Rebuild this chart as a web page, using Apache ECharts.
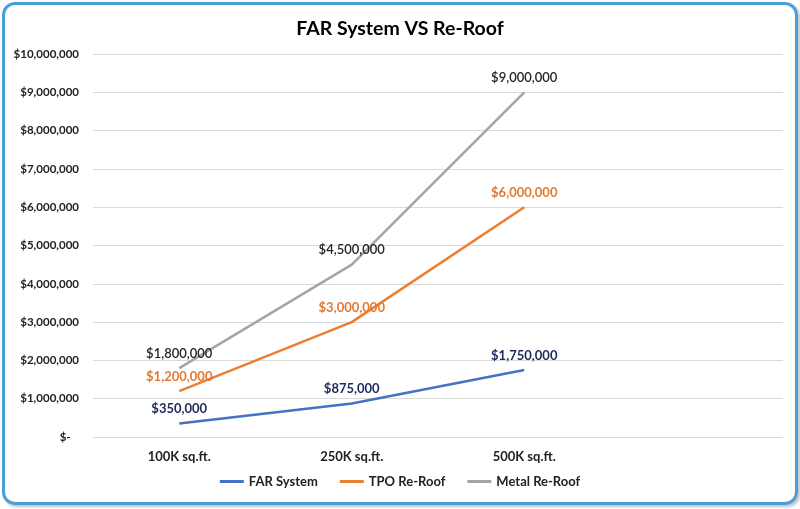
<!DOCTYPE html>
<html>
<head>
<meta charset="utf-8">
<script src="https://cdn.jsdelivr.net/npm/echarts@6/dist/echarts.min.js"></script>
<style>
html,body{margin:0;padding:0;background:#fff;}
#wrap{position:relative;width:800px;height:509px;}
#chart{position:absolute;left:0;top:0;width:800px;height:509px;}
#frame{position:absolute;left:2px;top:2px;width:790px;height:497px;border:3px solid #4A9FD9;border-radius:13px;pointer-events:none;box-shadow:2px 2px 3px rgba(0,0,0,0.25);}
</style>
</head>
<body>
<div id="wrap"><div id="chart"></div><div id="frame"></div></div>
<script>
const categories = ['100K sq.ft.', '250K sq.ft.', '500K sq.ft.', ''];
const farSystem = [350000, 875000, 1750000];
const tpoReRoof = [1200000, 3000000, 6000000];
const metalReRoof = [1800000, 4500000, 9000000];

function money(v){
  if (v === 0) return '$-   ';
  return '$' + v.toString().replace(/\B(?=(\d{3})+(?!\d))/g, ',');
}
const FONT = 'Lato, "Open Sans", sans-serif';
const chart = echarts.init(document.getElementById('chart'));
function mkSeries(name, data, color, labelColor, weight){
  return {
    name: name, type: 'line', data: data, symbol: 'circle', symbolSize: 0.1, showSymbol: true,
    lineStyle: {width: 2.5, color: color}, itemStyle: {color: color},
    label: {show: true, position: 'top', distance: 8, color: labelColor, fontFamily: FONT,
      fontSize: 13, fontWeight: weight, formatter: p => money(p.value)},
    labelLayout: {hideOverlap: false}
  };
}
chart.setOption({
  animation: false,
  textStyle: {fontFamily: FONT},
  title: {text: 'FAR System VS Re-Roof', left: 'center', top: 14,
    textStyle: {fontFamily: FONT, fontSize: 19.5, fontWeight: 'bold', color: '#000'}},
  grid: {left: 93, right: 17, top: 54, bottom: 72, containLabel: false},
  legend: {bottom: 16, left: 'center', icon: 'rect', itemWidth: 24, itemHeight: 3, itemGap: 22,
    textStyle: {fontFamily: FONT, fontSize: 13, fontWeight: 'bold', color: '#222'},
    data: ['FAR System', 'TPO Re-Roof', 'Metal Re-Roof']},
  xAxis: {type: 'category', data: categories, boundaryGap: true,
    axisLine: {show: false}, axisTick: {show: false},
    axisLabel: {margin: 13, fontFamily: FONT, fontSize: 13, fontWeight: 'bold', color: '#222'}},
  yAxis: {type: 'value', min: 0, max: 10000000, interval: 1000000,
    axisLine: {show: false}, axisTick: {show: false},
    splitLine: {lineStyle: {color: '#D9D9D9', width: 1}},
    axisLabel: {margin: 14, fontFamily: FONT, fontSize: 11.5, fontWeight: 'bold', color: '#222', formatter: money}},
  series: [
    mkSeries('FAR System', farSystem, '#4472C4', '#1F2A5C', 'bold'),
    mkSeries('TPO Re-Roof', tpoReRoof, '#ED7D31', '#E07A33', 'bold'),
    mkSeries('Metal Re-Roof', metalReRoof, '#A5A5A5', '#262626', 600)
  ]
});
</script>
</body>
</html>
